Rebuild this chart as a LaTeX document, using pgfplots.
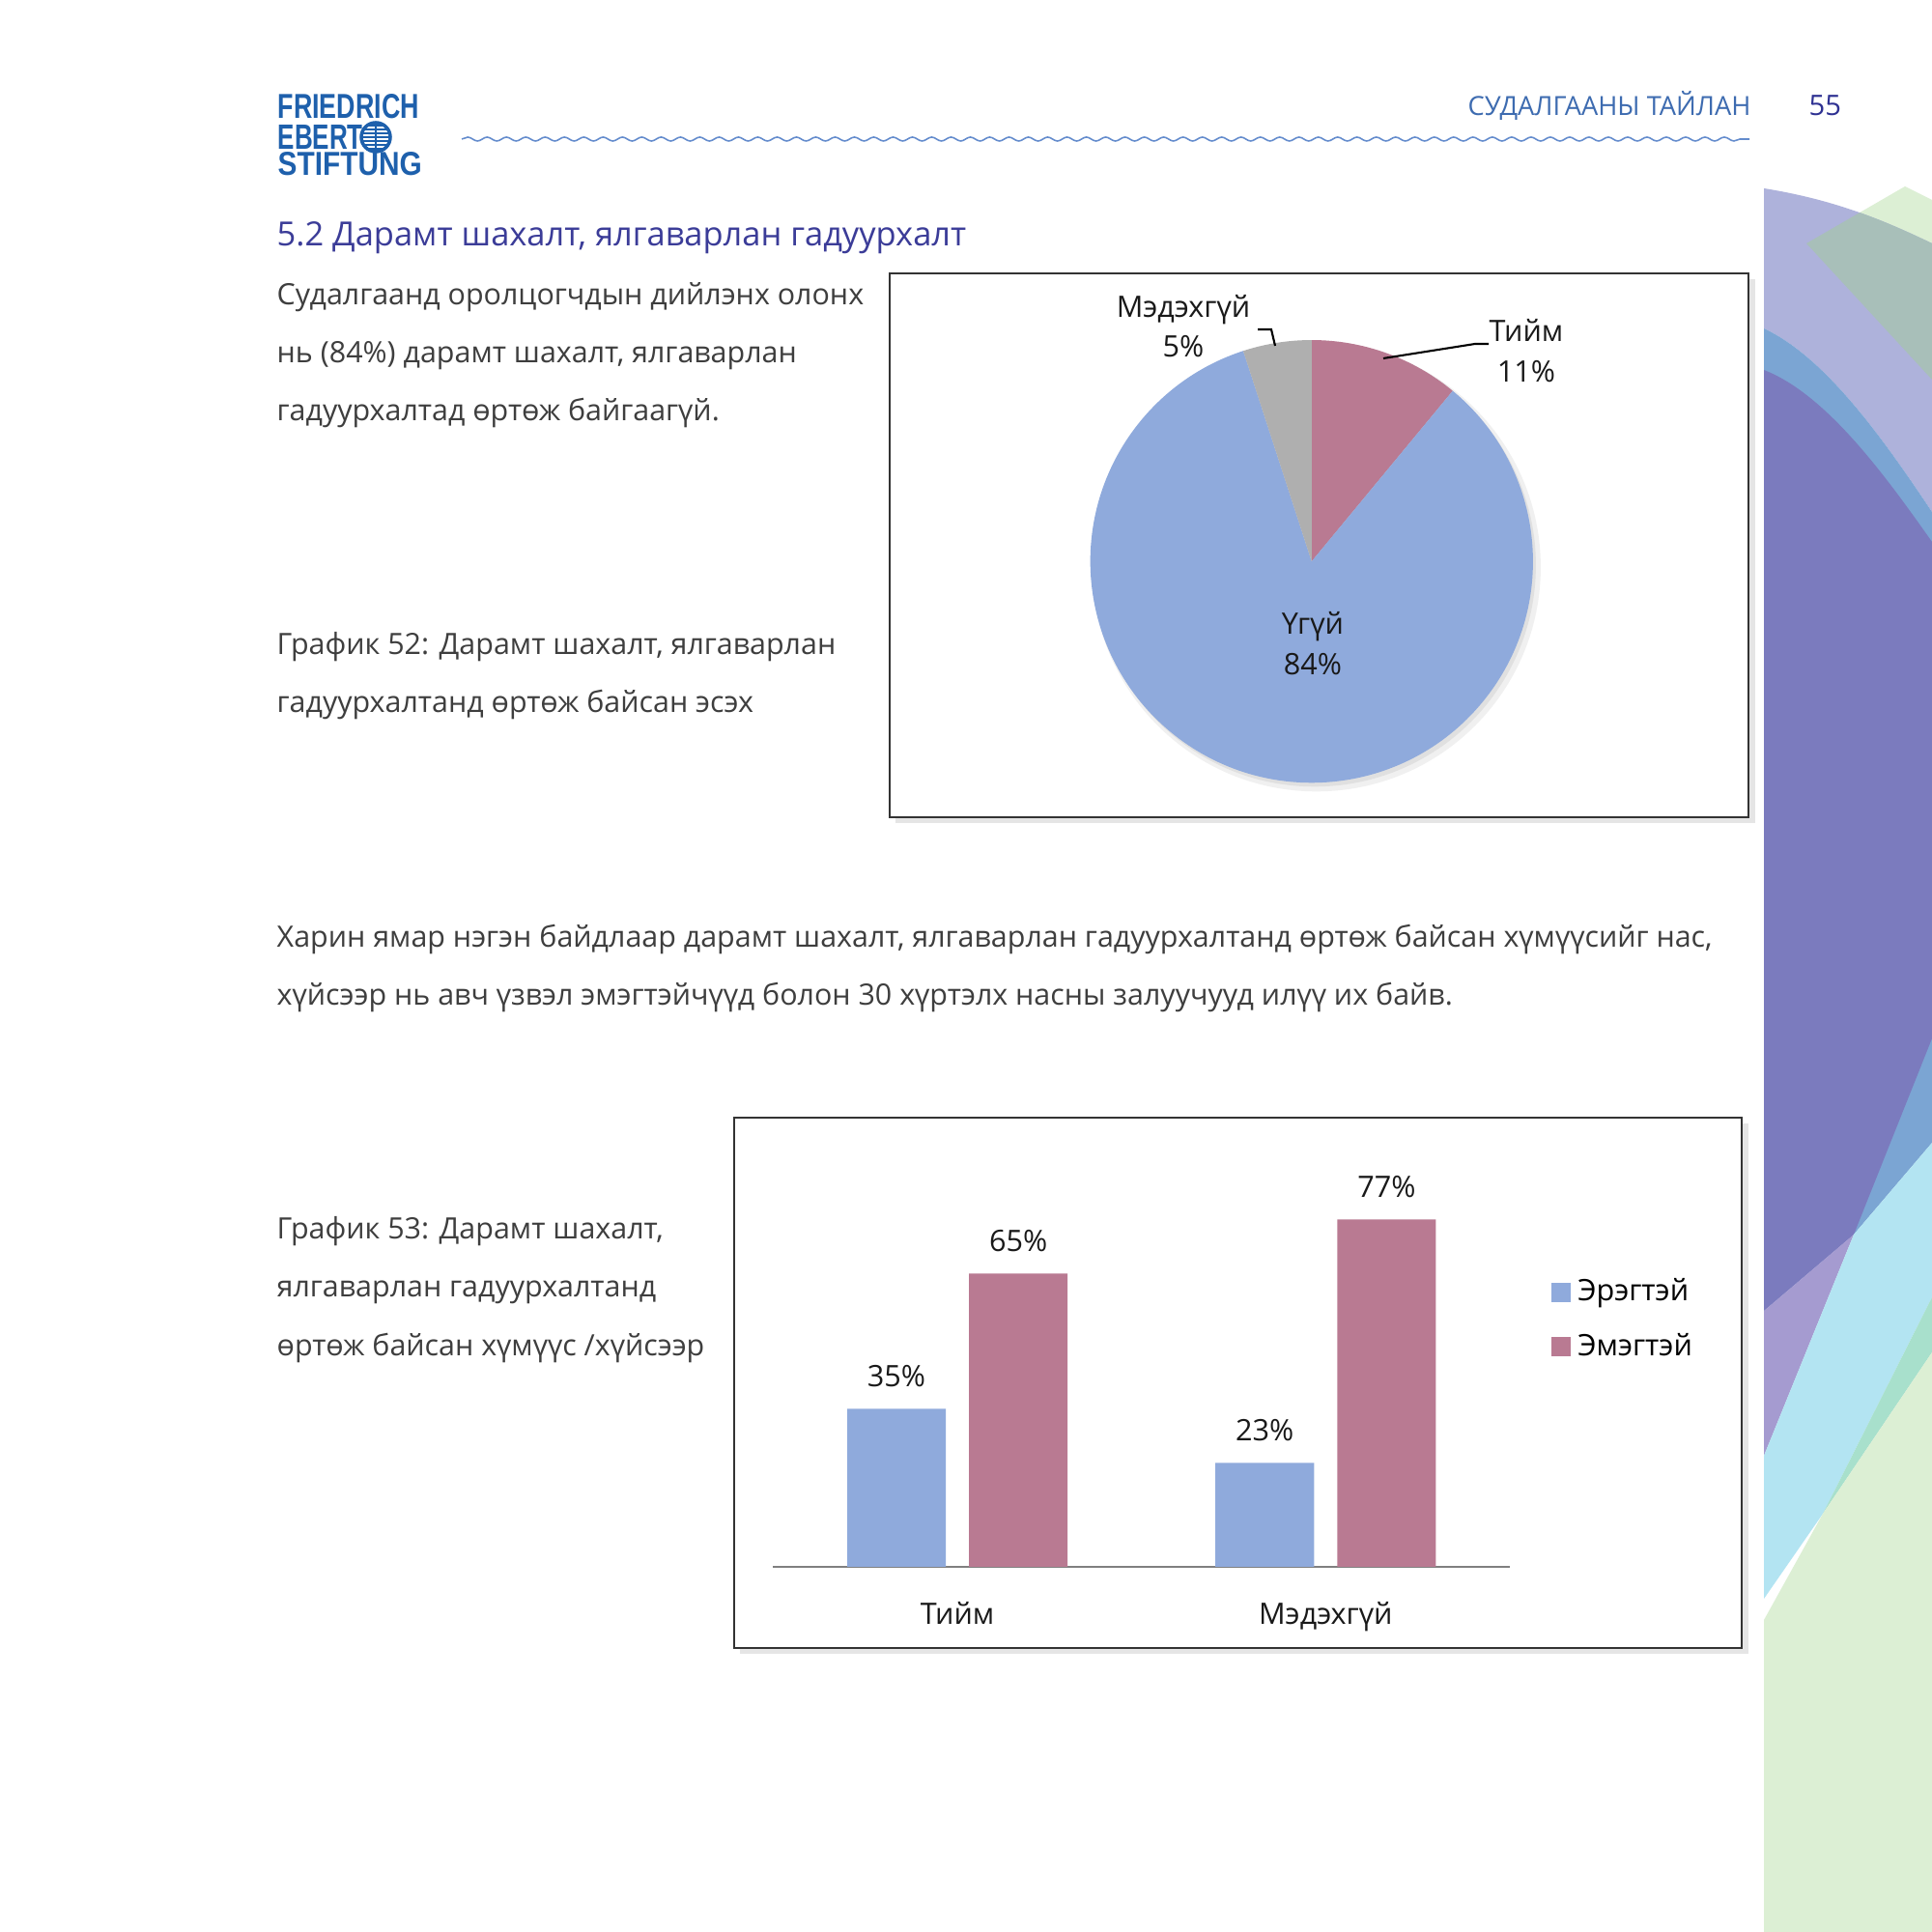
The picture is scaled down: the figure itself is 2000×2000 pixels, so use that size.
\documentclass[border=0pt]{standalone}
\usepackage{fontspec}
\setmainfont{Open Sans}
\newfontfamily\logofont{Liberation Sans}
\usepackage{graphicx}
\usepackage{pgfplots}
\pgfplotsset{compat=1.18}
\usetikzlibrary{decorations.pathmorphing}

\definecolor{pieblue}{RGB}{143,170,220}
\definecolor{piepink}{RGB}{185,122,146}
\definecolor{piegray}{RGB}{175,175,175}
\definecolor{bodytext}{RGB}{62,62,62}
\definecolor{titlecol}{RGB}{59,60,152}
\definecolor{headcol}{RGB}{61,107,176}
\definecolor{numcol}{RGB}{46,49,146}
\definecolor{logocol}{RGB}{30,96,172}
\definecolor{wavecol}{RGB}{100,140,205}
\definecolor{dLav}{RGB}{174,178,219}
\definecolor{dGreen}{RGB}{220,239,212}
\definecolor{dGG}{RGB}{168,191,185}
\definecolor{dBlue}{RGB}{123,165,211}
\definecolor{dPurp}{RGB}{123,123,190}
\definecolor{dLilac}{RGB}{165,155,208}
\definecolor{dCyan}{RGB}{179,228,242}
\definecolor{dMint}{RGB}{168,224,204}

\newcommand\bodyfs{\fontsize{8.65pt}{17pt}\selectfont}
\newcommand\chartfs{\fontsize{8.7pt}{11pt}\selectfont}
\newcommand\txt[3]{\node[anchor=base west, inner sep=0, text=bodytext, font=\bodyfs] at (#1,#2) {#3};}

\begin{document}
\begin{tikzpicture}
\begin{scope}[x=0.01cm, y=0.01cm]
\path[use as bounding box] (0,0) rectangle (2000,2000);
\fill[white] (0,0) rectangle (2000,2000);

% ---------- decoration on the right ----------
\fill[dGreen] (1870,1748) -- (1972,1807) -- (2000,1793) -- (2000,1607) -- cycle;
\fill[dLav] (1826,1805) .. controls (1900,1793) and (1950,1772) .. (2000,1748) -- (2000,1470)
   .. controls (1950,1545) and (1890,1630) .. (1826,1660) -- cycle;
\begin{scope}
\clip (1826,1805) .. controls (1900,1793) and (1950,1772) .. (2000,1748) -- (2000,1470)
   .. controls (1950,1545) and (1890,1630) .. (1826,1660) -- cycle;
\fill[dGG] (1870,1748) -- (1972,1807) -- (2000,1793) -- (2000,1607) -- cycle;
\end{scope}
\fill[dBlue] (1826,1660) .. controls (1890,1630) and (1950,1545) .. (2000,1470) -- (2000,817) -- (1919,722) -- (1826,643) -- cycle;
\fill[dPurp] (1826,1617) .. controls (1890,1592) and (1950,1510) .. (2000,1439) -- (2000,925) -- (1919,722) -- (1826,643) -- cycle;
\fill[dLilac] (1826,643) -- (1919,722) -- (1826,493) -- cycle;
\fill[dCyan] (1826,493) -- (1919,722) -- (2000,817) -- (2000,657) -- (1887,433) -- (1826,345) -- cycle;
\fill[dMint] (1887,433) -- (2000,657) -- (2000,600) -- cycle;
\fill[dGreen] (1826,323) -- (1887,433) -- (2000,600) -- (2000,0) -- (1826,0) -- cycle;

% ---------- header ----------
\node[anchor=base west, inner sep=0, text=logocol, font={\logofont\bfseries\fontsize{10pt}{10pt}\selectfont}] at (287,1877) {\resizebox{1.46cm}{0.25cm}{FRIEDRICH}};
\node[anchor=base west, inner sep=0, text=logocol, font={\logofont\bfseries\fontsize{10pt}{10pt}\selectfont}] at (287,1845) {\resizebox{0.88cm}{0.25cm}{EBERT}};
\node[anchor=base west, inner sep=0, text=logocol, font={\logofont\bfseries\fontsize{10pt}{10pt}\selectfont}] at (287,1818) {\resizebox{1.49cm}{0.24cm}{STIFTUNG}};
\begin{scope}
\clip (389,1858) circle (15);
\foreach \yy in {-12,-8,-4,0,4,8,12} \draw[logocol, line width=0.5pt] (370,1858+\yy) -- (410,1858+\yy);
\draw[logocol, line width=0.6pt] (389,1840) -- (389,1876);
\end{scope}
\draw[logocol, line width=1pt] (389,1858) circle (15);

\draw[wavecol, line width=0.45pt, decorate, decoration={snake, segment length=0.2cm, amplitude=0.02cm}] (478,1856) -- (1811,1856);
\node[anchor=base west, inner sep=0, text=headcol, font={\fontsize{7.75pt}{10pt}\selectfont}] at (1519,1880) {СУДАЛГААНЫ ТАЙЛАН};
\node[anchor=base west, inner sep=0, text=numcol, font={\fontsize{8.3pt}{10pt}\selectfont}] at (1872,1880) {55};

\node[anchor=base west, inner sep=0, text=titlecol, font={\fontsize{9.8pt}{13pt}\selectfont}] at (286,1745) {5.2 Дарамт шахалт, ялгаварлан гадуурхалт};

% ---------- body text ----------
\txt{286}{1684}{Судалгаанд оролцогчдын дийлэнх олонх}
\txt{286}{1624}{нь (84\%) дарамт шахалт, ялгаварлан}
\txt{286}{1564}{гадуурхалтад өртөж байгаагүй.}
\txt{286}{1322}{График 52: Дарамт шахалт, ялгаварлан}
\txt{286}{1262}{гадуурхалтанд өртөж байсан эсэх}
\txt{286}{1019}{Харин ямар нэгэн байдлаар дарамт шахалт, ялгаварлан гадуурхалтанд өртөж байсан хүмүүсийг нас,}
\txt{286}{959}{хүйсээр нь авч үзвэл эмэгтэйчүүд болон 30 хүртэлх насны залуучууд илүү их байв.}
\txt{286}{717}{График 53: Дарамт шахалт,}
\txt{286}{657}{ялгаварлан гадуурхалтанд}
\txt{286}{596}{өртөж байсан хүмүүс /хүйсээр}

% ---------- frames ----------
\fill[black!10] (927,1148) rectangle (1817,1711);
\fill[white] (921,1154) rectangle (1810,1717);
\draw[black!80, line width=0.5pt] (921,1154) rectangle (1810,1717);
\fill[black!10] (766,288) rectangle (1810,837);
\fill[white] (760,294) rectangle (1803,843);
\draw[black!80, line width=0.5pt] (760,294) rectangle (1803,843);
\end{scope}

% ---------- pie ----------
\begin{axis}[at={(13.57cm,14.18cm)}, anchor=center, x=2.29cm, y=2.29cm,
  xmin=-1, xmax=1, ymin=-1, ymax=1, hide axis, clip=false]
\pgfplotsextra{
  \fill[black!6] (axis cs:0,0) ++(0.05cm,-0.06cm) circle[radius=2.32cm];
  \fill[black!12] (axis cs:0,0) ++(0.03cm,-0.04cm) circle[radius=2.29cm];
  \gdef\cum{90}
  \foreach \v/\c in {11/piepink, 84/pieblue, 5/piegray}{
    \pgfmathsetmacro\endang{\cum-3.6*\v}
    \fill[\c] (axis cs:0,0) -- ++(\cum:2.29cm) arc[start angle=\cum, end angle=\endang, radius=2.29cm] -- cycle;
    \global\let\cum\endang
  }
}
\end{axis}

\begin{scope}[x=0.01cm, y=0.01cm]
\draw[black, line width=0.6pt] (1302,1659) -- (1316,1659) -- (1320,1642);
\draw[black, line width=0.6pt] (1432,1629) -- (1527,1644) -- (1541,1644);
\node[anchor=base, inner sep=0, font=\chartfs, text=black!90] at (1225,1671) {Мэдэхгүй};
\node[anchor=base, inner sep=0, font=\chartfs, text=black!90] at (1225,1630) {5\%};
\node[anchor=base, inner sep=0, font=\chartfs, text=black!90] at (1580,1646) {Тийм};
\node[anchor=base, inner sep=0, font=\chartfs, text=black!90] at (1580,1604) {11\%};
\node[anchor=base, inner sep=0, font=\chartfs, text=black!90] at (1359,1343) {Үгүй};
\node[anchor=base, inner sep=0, font=\chartfs, text=black!90] at (1359,1301) {84\%};
\end{scope}

% ---------- bars ----------
\begin{axis}[
  at={(8cm,3.78cm)}, anchor=south west,
  width=7.62cm, height=3.733cm, scale only axis,
  ybar=0.24cm, bar width=1.02cm,
  xmin=-0.5, xmax=1.5, ymin=0, ymax=80,
  axis y line=none, axis x line*=bottom,
  x axis line style={draw=black!50, line width=0.6pt, -},
  xtick={0,1}, xticklabels={Тийм, Мэдэхгүй},
  major tick length=0,
  xticklabel style={font=\chartfs, text=black!90, yshift=-0.24cm},
  nodes near coords={\pgfmathprintnumber{\pgfplotspointmeta}\%},
  every node near coord/.append style={font=\chartfs, text=black!90, yshift=0.1cm},
  /pgf/number format/assume math mode=true,
  legend style={draw=none, fill=none, at={(1.042,0.685)}, anchor=west, font=\chartfs,
    legend cell align=left, row sep=0.14cm},
  legend image code/.code={\fill[#1] (0cm,-0.1cm) rectangle (0.2cm,0.1cm);},
  clip=false,
]
\addplot[fill=pieblue, draw=none] coordinates {(0,35) (1,23)};
\addplot[fill=piepink, draw=none] coordinates {(0,65) (1,77)};
\legend{Эрэгтэй, Эмэгтэй}
\end{axis}
\end{tikzpicture}
\end{document}
